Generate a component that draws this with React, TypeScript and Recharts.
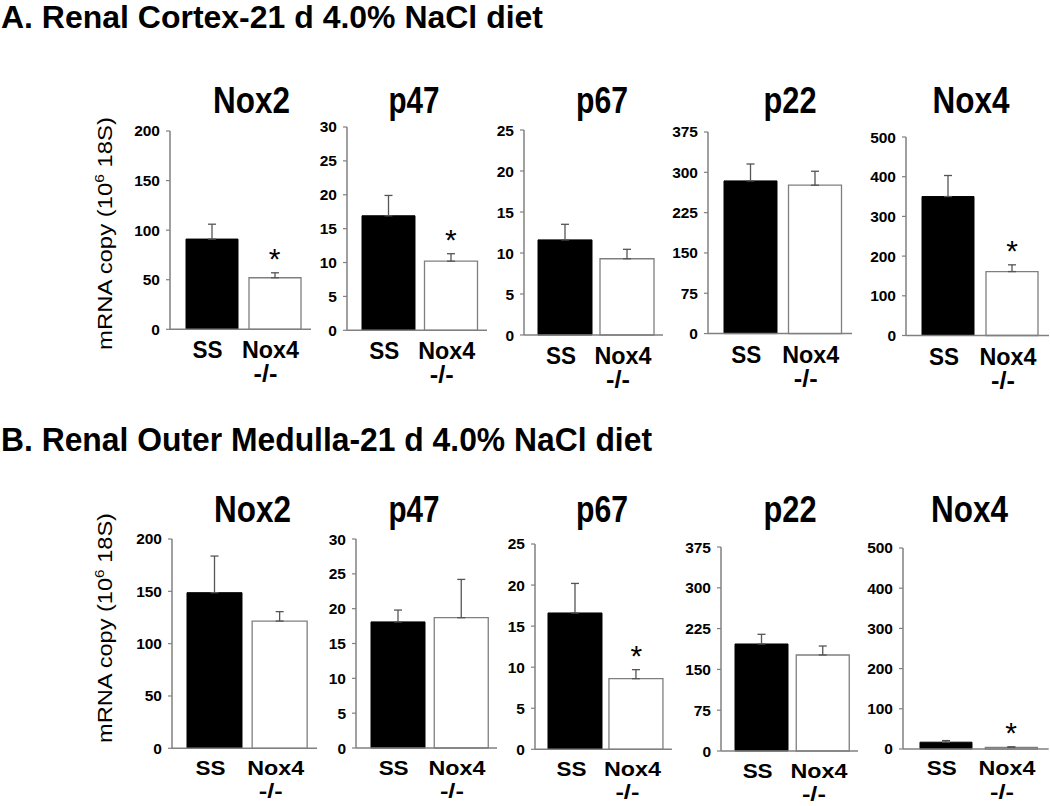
import React from 'react';
import { BarChart, Bar, XAxis, YAxis, Cell, ErrorBar, ReferenceDot } from 'recharts';

// ---------- data ----------
const groups = ['SS', 'Nox4 -/-'];
const genes = ['Nox2', 'p47', 'p67', 'p22', 'Nox4'];
const yMaxByGene = [200, 30, 25, 375, 500];
const ticksNox2 = [0, 50, 100, 150, 200];
const ticksP47 = [0, 5, 10, 15, 20, 25, 30];
const ticksP67 = [0, 5, 10, 15, 20, 25];
const ticksP22 = [0, 75, 150, 225, 300, 375];
const ticksNox4 = [0, 100, 200, 300, 400, 500];
const ticksByGene = [ticksNox2, ticksP47, ticksP67, ticksP22, ticksNox4];

const cortexSS = [91, 16.9, 11.6, 284, 350];
const cortexSSErr = [15, 3.0, 1.9, 31.5, 53];
const cortexKO = [52, 10.2, 9.3, 276, 161];
const cortexKOErr = [5, 1.1, 1.15, 26, 17];
const cortexSig = [true, true, false, false, true];

const medullaSS = [148.7, 18.1, 16.6, 196.7, 16.9];
const medullaSSErr = [35, 1.7, 3.6, 17.8, 4];
const medullaKO = [121.6, 18.7, 8.6, 176.5, 4];
const medullaKOErr = [9, 5.5, 1.1, 16.5, 1.5];
const medullaSig = [false, false, true, false, true];

const sectionTitles = ['A. Renal Cortex-21 d 4.0% NaCl diet', 'B. Renal Outer Medulla-21 d 4.0% NaCl diet'];

// ---------- layout ----------
const NARROW = '"Liberation Sans Narrow", "Arial Narrow", "Liberation Sans", Arial, sans-serif';
const SANS = '"Liberation Sans", Arial, sans-serif';
const AXIS_GRAY = '#808080';

type Geom = { axisX: number; axisEnd: number; yTop: number; yZero: number; barSize: number };
const topGeom: Geom[] = [
  { axisX: 170, axisEnd: 311, yTop: 130.7, yZero: 329, barSize: 52 },
  { axisX: 347, axisEnd: 487, yTop: 126.7, yZero: 330, barSize: 53 },
  { axisX: 524, axisEnd: 663, yTop: 129.7, yZero: 334.7, barSize: 54 },
  { axisX: 708, axisEnd: 852, yTop: 131.7, yZero: 333.3, barSize: 53 },
  { axisX: 906, axisEnd: 1049, yTop: 136.5, yZero: 335, barSize: 52 },
];
const bottomGeom: Geom[] = [
  { axisX: 171.7, axisEnd: 317, yTop: 539, yZero: 748.3, barSize: 55 },
  { axisX: 355.5, axisEnd: 497, yTop: 539.3, yZero: 748.3, barSize: 54 },
  { axisX: 534.7, axisEnd: 671.6, yTop: 544, yZero: 749.3, barSize: 54 },
  { axisX: 720.5, axisEnd: 858, yTop: 546.7, yZero: 750.7, barSize: 53 },
  { axisX: 903.3, axisEnd: 1049, yTop: 548, yZero: 749, barSize: 52 },
];
const topTitleX = [251.5, 414, 602, 790, 971];
const bottomTitleX = [252.5, 414, 602, 790, 969.5];
const titleWidths = [77, 51, 52, 53, 77];

const Y_AXIS_W = 60;
const M_TOP = 10;
const X_AXIS_H = 70;

const makeGroupTick = (line1: number, line2: number, fs: number) => (props: any) => {
  const { x, y, payload } = props;
  const parts = String(payload.value).split(' ');
  const main = parts[0];
  const sub = parts[1];
  return (
    <g>
      <text
        x={x - 4}
        y={y + line1}
        textAnchor="middle"
        fontSize={fs}
        fontWeight="bold"
        fontFamily={NARROW}
        fill="#000"
        textLength={main === 'SS' ? 30 : 57}
        lengthAdjust="spacingAndGlyphs"
      >
        {main}
      </text>
      {sub ? (
        <text
          x={x - 9}
          y={y + line2}
          textAnchor="middle"
          fontSize={fs}
          fontWeight="bold"
          fontFamily={NARROW}
          fill="#000"
          textLength={24}
          lengthAdjust="spacingAndGlyphs"
        >
          {sub}
        </text>
      ) : null}
    </g>
  );
};

const ValueTick = (props: any) => {
  const { x, y, payload } = props;
  return (
    <text x={x} y={y} dy={5.5} textAnchor="end" fontSize={15.5} fontWeight={700} fontFamily={SANS} fill="#000">
      {payload.value}
    </text>
  );
};

const StarShape = (props: any) => (
  <text x={props.cx} y={props.cy - 4} textAnchor="middle" fontSize={30} fontFamily={SANS} fill="#000">
    *
  </text>
);

type PanelProps = {
  geneIdx: number;
  geom: Geom;
  ss: number;
  ssErr: number;
  ko: number;
  koErr: number;
  sig: boolean;
  tick: any;
};

const Panel = ({ geneIdx, geom, ss, ssErr, ko, koErr, sig, tick }: PanelProps) => {
  const plotW = geom.axisEnd - geom.axisX;
  const plotH = geom.yZero - geom.yTop;
  const width = Y_AXIS_W + plotW;
  const height = M_TOP + plotH + X_AXIS_H;
  const data = [
    { group: groups[0], value: ss, err: [0, ssErr] },
    { group: groups[1], value: ko, err: [0, koErr] },
  ];
  return (
    <div style={{ position: 'absolute', left: geom.axisX - Y_AXIS_W, top: geom.yTop - M_TOP, width, height }}>
      <BarChart width={width} height={height} data={data} margin={{ top: M_TOP, right: 0, left: 0, bottom: 0 }}>
        <XAxis
          dataKey="group"
          type="category"
          height={X_AXIS_H}
          tickLine={false}
          tickSize={0}
          tickMargin={0}
          interval={0}
          axisLine={{ stroke: AXIS_GRAY, strokeWidth: 1.5 }}
          tick={tick}
          padding={{ left: 10, right: 5 }}
        />
        <YAxis
          type="number"
          domain={[0, yMaxByGene[geneIdx]]}
          ticks={ticksByGene[geneIdx]}
          interval={0}
          width={Y_AXIS_W}
          axisLine={{ stroke: AXIS_GRAY, strokeWidth: 1.5 }}
          tickLine={{ stroke: AXIS_GRAY, strokeWidth: 1.2 }}
          tickSize={4}
          tickMargin={6}
          tick={<ValueTick />}
        />
        <Bar dataKey="value" barSize={geom.barSize} isAnimationActive={false}>
          <Cell fill="#000" stroke="#000" strokeWidth={1} />
          <Cell fill="#fff" stroke="#7f7f7f" strokeWidth={1.3} />
          <ErrorBar dataKey="err" width={4} stroke="#555" strokeWidth={1.3} direction="y" isAnimationActive={false} />
        </Bar>
        {sig ? (
          <ReferenceDot x={groups[1]} y={ko + koErr} ifOverflow="visible" shape={<StarShape />} />
        ) : null}
      </BarChart>
    </div>
  );
};

const YLabel = ({ x, cy, len }: { x: number; cy: number; len: number }) => (
  <text
    transform={`translate(${x}, ${cy}) rotate(-90)`}
    textAnchor="middle"
    fontSize={20}
    fontFamily={NARROW}
    fill="#000"
    textLength={len}
    lengthAdjust="spacingAndGlyphs"
  >
    mRNA copy (10
    <tspan dy={-8} fontSize={13}>6</tspan>
    <tspan dy={8}> 18S)</tspan>
  </text>
);

const topTick = makeGroupTick(29, 53, 23);
const bottomTick = makeGroupTick(26.5, 50, 21);

export default function App() {
  return (
    <div
      style={{
        position: 'absolute',
        left: 0,
        top: 0,
        width: 1050,
        height: 806,
        background: '#fff',
        overflow: 'hidden',
      }}
    >
      <svg width={1050} height={806} style={{ position: 'absolute', left: 0, top: 0 }}>
        <text x={1} y={28} fontSize={31} fontWeight="bold" fontFamily={NARROW} fill="#000" textLength={542} lengthAdjust="spacingAndGlyphs">
          {sectionTitles[0]}
        </text>
        <text x={1} y={451} fontSize={33} fontWeight="bold" fontFamily={NARROW} fill="#000" textLength={651} lengthAdjust="spacingAndGlyphs">
          {sectionTitles[1]}
        </text>
        {genes.map((g, i) => (
          <text key={'t' + g} x={topTitleX[i]} y={112.7} textAnchor="middle" fontSize={37} fontWeight="bold" fontFamily={NARROW} fill="#000" textLength={titleWidths[i]} lengthAdjust="spacingAndGlyphs">
            {g}
          </text>
        ))}
        {genes.map((g, i) => (
          <text key={'b' + g} x={bottomTitleX[i]} y={521.7} textAnchor="middle" fontSize={37} fontWeight="bold" fontFamily={NARROW} fill="#000" textLength={titleWidths[i]} lengthAdjust="spacingAndGlyphs">
            {g}
          </text>
        ))}
        <YLabel x={112} cy={233.5} len={233} />
        <YLabel x={112} cy={628} len={230} />
      </svg>
      {genes.map((g, i) => (
        <Panel
          key={'top' + g}
          geneIdx={i}
          geom={topGeom[i]}
          ss={cortexSS[i]}
          ssErr={cortexSSErr[i]}
          ko={cortexKO[i]}
          koErr={cortexKOErr[i]}
          sig={cortexSig[i]}
          tick={topTick}
        />
      ))}
      {genes.map((g, i) => (
        <Panel
          key={'bot' + g}
          geneIdx={i}
          geom={bottomGeom[i]}
          ss={medullaSS[i]}
          ssErr={medullaSSErr[i]}
          ko={medullaKO[i]}
          koErr={medullaKOErr[i]}
          sig={medullaSig[i]}
          tick={bottomTick}
        />
      ))}
    </div>
  );
}
